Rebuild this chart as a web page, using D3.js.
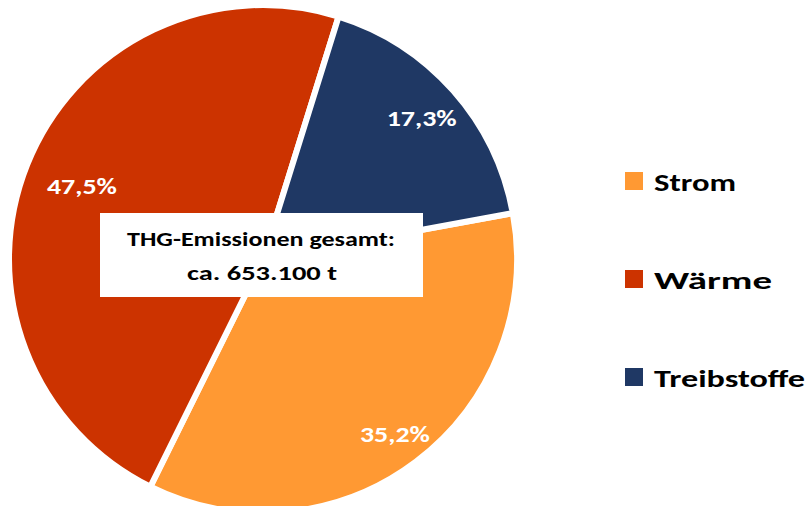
<!DOCTYPE html>
<html>
<head>
<meta charset="utf-8">
<script src="https://cdn.jsdelivr.net/npm/d3@7"></script>
<style>
  html, body { margin: 0; padding: 0; background: #ffffff; }
  svg { display: block; }
  text { font-family: Carlito, Lato, "Open Sans", sans-serif; }
</style>
</head>
<body>
<svg id="chart" width="807" height="506"></svg>
<script>
// Greenhouse-gas emissions by sector (share of total, %)
const categories = ["Strom", "Wärme", "Treibstoffe"];
const shares = [35.2, 47.5, 17.3];
const shareLabels = ["35,2%", "47,5%", "17,3%"];
const colors = ["#FF9933", "#CC3300", "#1F3864"];
const totalLines = ["THG-Emissionen gesamt:", "ca. 653.100 t"];

const width = 807, height = 506;
const cx = 263, cy = 259, radius = 254;
const firstSliceDeg = 79.6;
// distance of each percentage label from the centre
const labelRadius = { "Strom": 219, "Wärme": 195, "Treibstoffe": 212 };

const svg = d3.select("#chart");
const data = categories.map((c, i) => ({ name: c, value: shares[i], label: shareLabels[i] }));

const color = d3.scaleOrdinal().domain(categories).range(colors);

const start = firstSliceDeg * Math.PI / 180;
const pie = d3.pie().value(d => d.value).sort(null)
  .startAngle(start).endAngle(start + 2 * Math.PI);
const arcs = pie(data);
const arc = d3.arc().innerRadius(0).outerRadius(radius);

const g = svg.append("g").attr("transform", `translate(${cx},${cy})`);

g.selectAll("path.slice").data(arcs).join("path")
  .attr("class", "slice")
  .attr("d", arc)
  .attr("fill", d => color(d.data.name))
  .attr("stroke", "#ffffff")
  .attr("stroke-width", 6)
  .attr("stroke-linejoin", "miter");

// percentage labels
g.selectAll("text.pct").data(arcs).join("text")
  .attr("class", "pct")
  .attr("transform", d => {
    const r = labelRadius[d.data.name];
    const c = d3.arc().innerRadius(r).outerRadius(r).centroid(d);
    return `translate(${c[0]},${c[1]})`;
  })
  .attr("text-anchor", "middle")
  .attr("dy", "0.36em")
  .attr("fill", "#ffffff")
  .attr("font-size", 22)
  .attr("font-weight", 700)
  .attr("textLength", 70)
  .attr("lengthAdjust", "spacingAndGlyphs")
  .text(d => d.data.label);

// total emissions box
const box = svg.append("g");
box.append("rect")
  .attr("x", 100).attr("y", 213)
  .attr("width", 323).attr("height", 84)
  .attr("fill", "#ffffff");
box.append("text")
  .attr("x", 261).attr("y", 246)
  .attr("text-anchor", "middle")
  .attr("font-size", 21).attr("font-weight", 700).attr("fill", "#000")
  .attr("textLength", 268).attr("lengthAdjust", "spacingAndGlyphs")
  .text(totalLines[0]);
box.append("text")
  .attr("x", 262).attr("y", 280)
  .attr("text-anchor", "middle")
  .attr("font-size", 21).attr("font-weight", 700).attr("fill", "#000")
  .attr("textLength", 150).attr("lengthAdjust", "spacingAndGlyphs")
  .text(totalLines[1]);

// legend
const legendY = d3.scalePoint().domain(categories).range([181, 377]);
const legendWidths = { "Strom": 82, "Wärme": 118, "Treibstoffe": 151 };
const leg = svg.append("g").selectAll("g").data(categories).join("g")
  .attr("transform", d => `translate(625,${legendY(d)})`);
leg.append("rect")
  .attr("x", 0).attr("y", -9)
  .attr("width", 18).attr("height", 18)
  .attr("fill", d => color(d));
leg.append("text")
  .attr("x", 29).attr("y", 10)
  .attr("font-size", 25).attr("font-weight", 700).attr("fill", "#000")
  .attr("textLength", d => legendWidths[d]).attr("lengthAdjust", "spacingAndGlyphs")
  .text(d => d);
</script>
</body>
</html>
